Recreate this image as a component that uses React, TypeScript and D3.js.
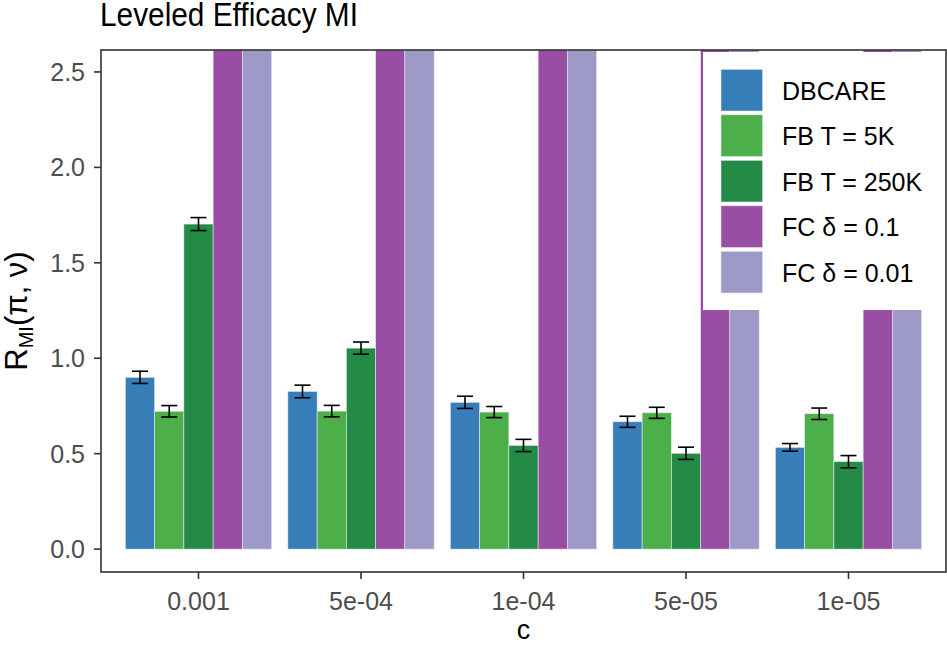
import React, { useRef, useEffect } from 'react';
import * as d3 from 'd3';

// c values on the x axis
const categories = ['0.001', '5e-04', '1e-04', '5e-05', '1e-05'];
const seriesNames = ['DBCARE', 'FB T = 5K', 'FB T = 250K', 'FC δ = 0.1', 'FC δ = 0.01'];
const seriesColors = ['#377EB8', '#4DAF4A', '#238B45', '#984EA3', '#9E9AC8'];

const dbcare = [0.9, 0.826, 0.769, 0.667, 0.533];
const dbcareErr = [0.032, 0.033, 0.032, 0.029, 0.02];
const fb5k = [0.722, 0.723, 0.718, 0.714, 0.709];
const fb5kErr = [0.03, 0.03, 0.029, 0.029, 0.03];
const fb250k = [1.703, 1.053, 0.543, 0.502, 0.458];
const fb250kErr = [0.034, 0.032, 0.032, 0.032, 0.032];
// FC bars run off the top of the plot
const fc01 = [3.2, 3.1, 3.0, 3.0, 2.9];
const fc001 = [3.2, 3.1, 3.0, 3.0, 2.9];

const yTicks = [0, 0.5, 1, 1.5, 2, 2.5];

const W = 947;
const H = 650;

export default function App() {
  const svgRef = useRef<SVGSVGElement>(null);

  useEffect(() => {
    if (!svgRef.current) return;
    const svg = d3.select(svgRef.current);
    svg.selectAll('*').remove();

    const left = 101, right = 946, top = 50, bottom = 572;

    const values = [dbcare, fb5k, fb250k, fc01, fc001];
    const errs = [dbcareErr, fb5kErr, fb250kErr, null, null];

    const x = d3.scaleBand<string>()
      .domain(categories)
      .range([left, right])
      .paddingInner(0.1)
      .paddingOuter(0.15);

    const xInner = d3.scaleBand<string>()
      .domain(seriesNames)
      .range([0, x.bandwidth()]);

    const y = d3.scaleLinear()
      .domain([-0.12, 2.615])
      .range([bottom, top]);

    svg.append('rect').attr('width', W).attr('height', H).attr('fill', 'white');

    svg.append('defs').append('clipPath').attr('id', 'panel-clip')
      .append('rect')
      .attr('x', left).attr('y', top)
      .attr('width', right - left).attr('height', bottom - top);

    const g = svg.append('g').attr('clip-path', 'url(#panel-clip)');

    // Bars
    seriesNames.forEach((name, si) => {
      g.selectAll(null)
        .data(values[si])
        .enter()
        .append('rect')
        .attr('x', (_, i) => (x(categories[i]) as number) + (xInner(name) as number))
        .attr('y', d => y(d))
        .attr('width', xInner.bandwidth())
        .attr('height', d => y(0) - y(d))
        .attr('fill', seriesColors[si])
        .attr('stroke', '#E4E4F2')
        .attr('stroke-width', 0.6);
    });

    // Error bars
    const capW = 16;
    seriesNames.forEach((name, si) => {
      const e = errs[si];
      if (!e) return;
      values[si].forEach((v, i) => {
        const cx = (x(categories[i]) as number) + (xInner(name) as number) + xInner.bandwidth() / 2;
        const lo = y(v - e[i]);
        const hi = y(v + e[i]);
        const eg = g.append('g').attr('stroke', 'black').attr('stroke-width', 1.6);
        eg.append('line').attr('x1', cx).attr('x2', cx).attr('y1', lo).attr('y2', hi);
        eg.append('line').attr('x1', cx - capW / 2).attr('x2', cx + capW / 2).attr('y1', lo).attr('y2', lo);
        eg.append('line').attr('x1', cx - capW / 2).attr('x2', cx + capW / 2).attr('y1', hi).attr('y2', hi);
      });
    });

    // Legend (inside panel, top right)
    const lg = svg.append('g');
    lg.append('rect')
      .attr('x', 703).attr('y', 52)
      .attr('width', 942 - 703).attr('height', 310 - 52)
      .attr('fill', 'white');
    seriesNames.forEach((name, i) => {
      const ky = 69.3 + i * 45.5;
      lg.append('rect')
        .attr('x', 721).attr('y', ky)
        .attr('width', 41.7).attr('height', 41.7)
        .attr('fill', seriesColors[i])
        .attr('stroke', '#E4E4F2').attr('stroke-width', 0.6);
      lg.append('text')
        .attr('x', 782).attr('y', ky + 30.5)
        .attr('font-family', 'Liberation Sans, Arial, sans-serif')
        .attr('font-size', 25)
        .attr('fill', 'black')
        .text(name);
    });

    // Panel border
    svg.append('rect')
      .attr('x', left).attr('y', top)
      .attr('width', right - left).attr('height', bottom - top)
      .attr('fill', 'none')
      .attr('stroke', '#333333')
      .attr('stroke-width', 1.6);

    // Y axis ticks + labels
    const ya = svg.append('g');
    yTicks.forEach(t => {
      ya.append('line')
        .attr('x1', left - 7).attr('x2', left)
        .attr('y1', y(t)).attr('y2', y(t))
        .attr('stroke', '#333333').attr('stroke-width', 1.6);
      ya.append('text')
        .attr('x', left - 16).attr('y', y(t))
        .attr('dy', '0.36em')
        .attr('text-anchor', 'end')
        .attr('font-family', 'Liberation Sans, Arial, sans-serif')
        .attr('font-size', 25)
        .attr('fill', '#4D4D4D')
        .text(t.toFixed(1));
    });

    // X axis ticks + labels
    const xa = svg.append('g');
    categories.forEach(c => {
      const cx = (x(c) as number) + x.bandwidth() / 2;
      xa.append('line')
        .attr('x1', cx).attr('x2', cx)
        .attr('y1', bottom).attr('y2', bottom + 7)
        .attr('stroke', '#333333').attr('stroke-width', 1.6);
      xa.append('text')
        .attr('x', cx).attr('y', 610)
        .attr('text-anchor', 'middle')
        .attr('font-family', 'Liberation Sans, Arial, sans-serif')
        .attr('font-size', 25)
        .attr('fill', '#4D4D4D')
        .text(c);
    });

    // Axis titles
    svg.append('text')
      .attr('x', (left + right) / 2).attr('y', 639)
      .attr('text-anchor', 'middle')
      .attr('font-family', 'Liberation Sans, Arial, sans-serif')
      .attr('font-size', 27)
      .attr('fill', 'black')
      .text('c');

    const yl = svg.append('text')
      .attr('transform', `translate(27,${(top + bottom) / 2}) rotate(-90)`)
      .attr('text-anchor', 'middle')
      .attr('font-family', 'Liberation Sans, Arial, sans-serif')
      .attr('font-size', 31)
      .attr('fill', 'black');
    yl.append('tspan').text('R');
    yl.append('tspan').attr('font-size', 20).attr('dy', 6).text('MI');
    yl.append('tspan').attr('dy', -6).text('(π, ν)');

    // Title
    svg.append('text')
      .attr('x', 100).attr('y', 26)
      .attr('font-family', 'Liberation Sans, Arial, sans-serif')
      .attr('font-size', 33)
      .attr('textLength', 258)
      .attr('lengthAdjust', 'spacingAndGlyphs')
      .attr('fill', 'black')
      .text('Leveled Efficacy MI');
  }, []);

  return (
    <svg
      ref={svgRef}
      width={W}
      height={H}
      style={{ position: 'absolute', left: 0, top: 0, display: 'block' }}
    />
  );
}
